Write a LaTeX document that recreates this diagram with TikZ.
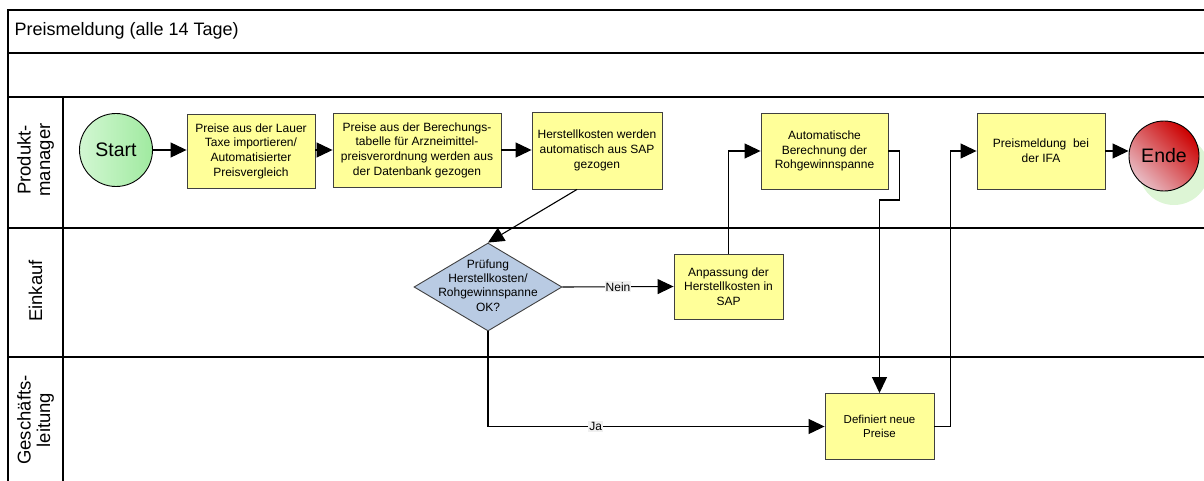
\documentclass[tikz,border=0pt]{standalone}
\usepackage{fontspec}
\setmainfont{Liberation Sans}
\usetikzlibrary{arrows.meta,shapes.geometric,positioning,calc}
\definecolor{boxfill}{HTML}{FFFF99}
\definecolor{boxline}{HTML}{404040}
\definecolor{diafill}{HTML}{B9CBE3}
\definecolor{lblbg}{HTML}{F0F0F0}
\definecolor{startA}{HTML}{D2F7D2}
\definecolor{startB}{HTML}{A0EAA0}
\definecolor{endeA}{HTML}{E8BCC4}
\definecolor{endeB}{HTML}{CC0000}
\definecolor{shadowgreen}{HTML}{DDF5D5}
\tikzset{
  lane/.style={line width=1.1pt, draw=black},
  procbox/.style={draw=boxline, line width=0.9pt, fill=boxfill, rectangle, inner sep=0pt, align=center,
    font=\fontsize{12}{14.7}\selectfont},
  arr/.style={line width=1.1pt, -{Triangle[length=16pt,width=15pt]}},
  lbl/.style={fill=lblbg, inner sep=1pt, font=\fontsize{12}{13}\selectfont},
  lanelabel/.style={rotate=90, align=center, font=\fontsize{18.5}{19.5}\selectfont},
}
\begin{document}
\begin{tikzpicture}[x=1pt,y=-1pt]
\useasboundingbox (0,0) rectangle (1204,481);
% frame
\draw[lane] (1215,10) -- (8,10) -- (8,490);
\draw[lane] (8,53) -- (1215,53);
\draw[lane] (8,97) -- (1215,97);
\draw[lane] (8,228) -- (1215,228);
\draw[lane] (8,357) -- (1215,357);
\draw[lane] (63,97) -- (63,490);
\node[anchor=west, font=\fontsize{18}{20}\selectfont] (title) at (11,31) {Preismeldung (alle 14 Tage)};
\node[lanelabel] (l1) at (35.5,160) {Produkt-\\manager};
\node[lanelabel] (l2) at (35.5,291) {Einkauf};
\node[lanelabel] (l3) at (35.5,420) {Geschäfts-\\leitung};

% nodes
\node[circle, draw=black, line width=0.9pt, minimum size=73pt, inner sep=0pt, left color=startA, right color=startB,
  font=\fontsize{19.5}{21}\selectfont] (start) at (116,150) {Start};
\node[procbox, minimum width=128pt, minimum height=74pt] (b1) at (251,151)
  {Preise aus der Lauer\\Taxe importieren/\\Automatisierter\\Preisvergleich};
\node[procbox, minimum width=168pt, minimum height=74pt] (b2) at (417,150)
  {Preise aus der Berechungs-\\tabelle für Arzneimittel-\\preisverordnung werden aus\\der Datenbank gezogen};
\node[procbox, minimum width=130pt, minimum height=77pt] (b3) at (597,150.5)
  {Herstellkosten werden\\automatisch aus SAP\\gezogen};
\node[procbox, minimum width=127pt, minimum height=76pt] (b4) at (824.5,151)
  {Automatische\\Berechnung der\\Rohgewinnspanne};
\node[procbox, minimum width=128pt, minimum height=76pt] (b5) at (1041,151)
  {Preismeldung~ bei\\der IFA};
\fill[shadowgreen] (1174,170) circle (35);
\node[circle, draw=black, line width=0.9pt, minimum size=70pt, inner sep=0pt, left color=endeA, right color=endeB,
  shading angle=135, font=\fontsize{19.5}{21}\selectfont] (ende) at (1164,156) {Ende};

\node[diamond, draw=boxline, line width=0.9pt, fill=diafill, minimum width=148pt, minimum height=88pt, inner sep=0pt] (d) at (488,287) {};
\node[align=center, font=\fontsize{12}{14.3}\selectfont] (dtext) at (488,285.5) {Prüfung\\Herstellkosten/\\Rohgewinnspanne\\OK?};
\node[procbox, minimum width=109pt, minimum height=65pt] (anp) at (728.5,286.5)
  {Anpassung der\\Herstellkosten in\\SAP};
\node[procbox, minimum width=109pt, minimum height=66pt, font=\fontsize{11.5}{14.7}\selectfont] (def) at (879.5,426.5)
  {Definiert neue\\Preise};

% connectors
\draw[arr] (start.east) -- (start.east -| b1.west);
\draw[arr] (b1.east |- 0,150) -- (b2.west |- 0,150);
\draw[arr] (b2.east) -- (b2.east -| b3.west);
\draw[arr] ([xshift=-20pt]b3.south) -- (d.north);
\draw[arr] (d.east) -- node[lbl] {Nein} (anp.west);
\draw[arr] (anp.north) |- (b4.west);
\draw[arr] (b4.east) -- ++(11,0) |- (def.north |- 0,200) -- (def.north);
\draw[arr] (def.east) -- ++(16,0) |- (b5.west);
\draw[arr] (b5.east) -- (b5.east -| ende.west);
\draw[arr] (d.south) |- node[lbl, pos=0.66] {Ja} (def.west);
\end{tikzpicture}
\end{document}
